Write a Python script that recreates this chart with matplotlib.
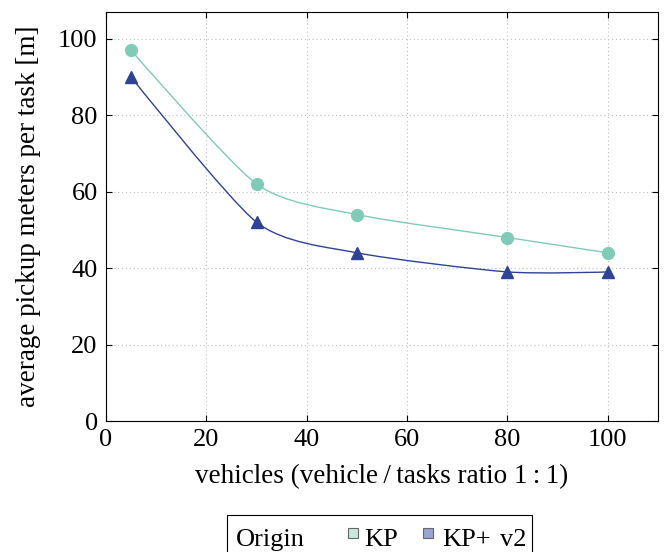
import numpy as np
import matplotlib.pyplot as plt
from matplotlib.path import Path
from matplotlib.patches import PathPatch, Rectangle

plt.rcParams['font.family'] = ['Liberation Serif', 'DejaVu Serif']

vehicles = [5, 30, 50, 80, 100]
kp = [97, 62, 54, 48, 44]
kp_v2 = [90, 52, 44, 39, 39]

c_kp = '#80cbb7'
c_v2 = '#2e4396'


def smooth_path(xs, ys, tension=0.12):
    # cubic bezier through the points, tikz "smooth" style
    pts = np.column_stack([xs, ys]).astype(float)
    n = len(pts)
    verts = [pts[0]]
    codes = [Path.MOVETO]
    for i in range(n - 1):
        p0, p1 = pts[i], pts[i + 1]
        if i == 0:
            c1 = p0
        else:
            c1 = p0 + tension * (pts[i + 1] - pts[i - 1])
        if i == n - 2:
            c2 = p1
        else:
            c2 = p1 - tension * (pts[i + 2] - pts[i])
        verts += [c1, c2, p1]
        codes += [Path.CURVE4] * 3
    return Path(verts, codes)


fig = plt.figure(figsize=(6.66, 5.52), dpi=100)
ax = fig.add_axes([106/666, 1-421/552, (658-106)/666, (421-12)/552])

for ys, col, mk in [(kp, c_kp, 'o'), (kp_v2, c_v2, '^')]:
    ax.add_patch(PathPatch(smooth_path(vehicles, ys), fill=False, edgecolor=col, lw=1.0, zorder=3))
    ax.plot(vehicles, ys, linestyle='none', marker=mk, color=col, markersize=8.5 if mk == 'o' else 8, zorder=4)

ax.set_xlim(0, 110)
ax.set_ylim(0, 107)
ax.set_xticks(range(0, 101, 20))
ax.set_yticks(range(0, 101, 20))
ax.grid(True, linestyle=(0, (1, 2.5)), color='#c0c0c0', lw=0.8)
ax.tick_params(direction='in', length=4.5, width=0.8, top=True, right=True, labelsize=19, pad=6)
for s in ax.spines.values():
    s.set_linewidth(0.8)

ax.set_xlabel('vehicles (vehicle\u2009/\u2009tasks ratio 1\u2009:\u20091)', fontsize=19.5, labelpad=9)
ax.set_ylabel('average pickup meters per task [m]', fontsize=19.5, labelpad=12)

# legend box below the plot
fig.patches.append(Rectangle((227/666, 1-560/552), (532-227)/666, 45/552, transform=fig.transFigure,
                             fill=False, edgecolor='black', lw=0.8, clip_on=False))
fig.text(236/666, 1-546/552, 'Origin', fontsize=19, va='baseline')
fig.patches.append(Rectangle((348/666, 1-538/552), 10/666, 10/552, transform=fig.transFigure,
                             facecolor='#c8e8df', edgecolor='#666666', lw=0.8))
fig.text(364/666, 1-546/552, 'KP', fontsize=19, va='baseline')
fig.patches.append(Rectangle((423/666, 1-538/552), 10/666, 10/552, transform=fig.transFigure,
                             facecolor='#98a4cf', edgecolor='#666666', lw=0.8))
fig.text(442/666, 1-546/552, 'KP+', fontsize=19, va='baseline')
fig.text(500/666, 1-546/552, 'v2', fontsize=19, va='baseline')

fig.savefig('out.png', dpi=100)
